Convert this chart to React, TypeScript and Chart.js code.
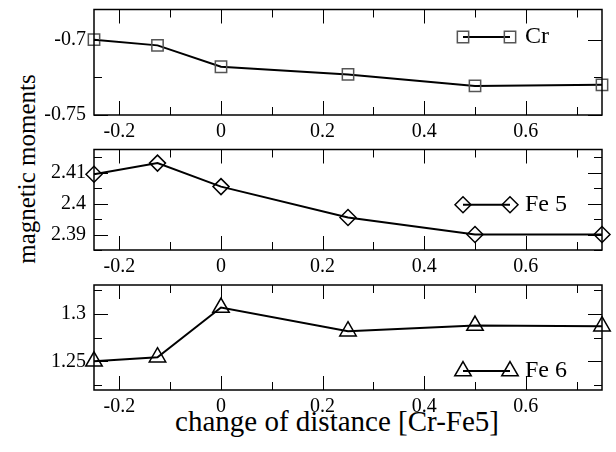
import React, { useEffect, useRef } from 'react';
import { Chart, registerables } from 'chart.js';
import { drawPoint } from 'chart.js/helpers';

Chart.register(...registerables);

// ---------- data ----------
const xValues = [-0.25, -0.125, 0, 0.25, 0.5, 0.75];
const crValues = [-0.7, -0.7038, -0.718, -0.7231, -0.7307, -0.73];
const fe5Values = [2.4095, 2.4131, 2.4055, 2.3955, 2.39, 2.39];
const fe6Values = [1.2501, 1.2544, 1.3064, 1.2816, 1.2875, 1.2868];

const xRange = [-0.25, 0.75];
const xMajorTicks = [-0.2, 0, 0.2, 0.4, 0.6];
const xTickLabels = ['-0.2', '0', '0.2', '0.4', '0.6'];
const xMinorTicks = [-0.1, 0.1, 0.3, 0.5, 0.7];

const crRange = [-0.75, -0.68];
const crMajorTicks = [-0.75, -0.7];
const crTickLabels = ['-0.75', '-0.7'];
const crMinorTicks = [-0.725];

const fe5Range = [2.385, 2.4175];
const fe5MajorTicks = [2.39, 2.4, 2.41];
const fe5TickLabels = ['2.39', '2.4', '2.41'];
const fe5MinorTicks = [2.385, 2.395, 2.405, 2.415];

const fe6Range = [1.22, 1.33];
const fe6MajorTicks = [1.25, 1.3];
const fe6TickLabels = ['1.25', '1.3'];
const fe6MinorTicks = [1.225, 1.275, 1.325];

const seriesNames = ['Cr', 'Fe 5', 'Fe 6'];
const yTitle = 'magnetic moments';
const xTitle = 'change of distance [Cr-Fe5]';

// ---------- layout / style ----------
const W = 616;
const H = 452;
const PLOT_LEFT = 94;
const PLOT_RIGHT = 602;
const Y_AXIS_W = 60;
const PAD_TOP = 4;
const X_AXIS_H = 26;
const FONT = '"Liberation Serif", "Times New Roman", serif';
const TICK_FONT = 20;
const Y_TITLE_FONT = 25;
const X_TITLE_FONT = 29;
const LEGEND_FONT = 24;
const MAJOR_LEN = 14;
const MINOR_LEN = 8;

Chart.defaults.font.family = FONT;
Chart.defaults.color = '#000';

type PanelProps = {
  values: number[];
  range: number[];
  majors: number[];
  labels: string[];
  minors: number[];
  name: string;
  pointStyle: string;
  markerColor: string;
  radius: number;
  plotTop: number;
  plotBottom: number;
  legendDy: number;
  last?: boolean;
};

function Panel(p: PanelProps) {
  const ref = useRef<HTMLCanvasElement>(null);
  const canvasTop = p.plotTop - PAD_TOP;
  const xAxisH = p.last ? H - p.plotBottom : X_AXIS_H;
  const h = p.plotBottom - p.plotTop + PAD_TOP + xAxisH;

  useEffect(() => {
    const canvas = ref.current!;
    const decor = {
      id: 'decor',
      afterDatasetsDraw(chart: any) {
        const { ctx, chartArea: a, scales } = chart;
        const xs = scales.x;
        const ys = scales.y;
        ctx.save();
        ctx.strokeStyle = '#000';
        ctx.lineWidth = 1;
        ctx.beginPath();
        const xt = (v: number, len: number) => {
          const px = Math.round(xs.getPixelForValue(v)) + 0.5;
          ctx.moveTo(px, a.bottom);
          ctx.lineTo(px, a.bottom - len);
          ctx.moveTo(px, a.top);
          ctx.lineTo(px, a.top + len);
        };
        const yt = (v: number, len: number) => {
          const py = Math.round(ys.getPixelForValue(v)) + 0.5;
          ctx.moveTo(a.left, py);
          ctx.lineTo(a.left + len, py);
          ctx.moveTo(a.right, py);
          ctx.lineTo(a.right - len, py);
        };
        xMajorTicks.forEach((v) => xt(v, MAJOR_LEN));
        xMinorTicks.forEach((v) => xt(v, MINOR_LEN));
        p.majors.forEach((v) => yt(v, MAJOR_LEN));
        p.minors.forEach((v) => yt(v, MINOR_LEN));
        ctx.stroke();
        ctx.lineWidth = 1.5;
        ctx.strokeRect(a.left, a.top, a.right - a.left, a.bottom - a.top);

        // legend
        const ly = a.top + p.legendDy;
        const x1 = 463;
        const x2 = 510;
        ctx.lineWidth = 2;
        ctx.beginPath();
        ctx.moveTo(x1, ly);
        ctx.lineTo(x2, ly);
        ctx.stroke();
        ctx.strokeStyle = p.markerColor;
        ctx.fillStyle = 'rgba(0,0,0,0)';
        ctx.lineWidth = 1.5;
        const po = { pointStyle: p.pointStyle, radius: p.radius, borderWidth: 1.5, rotation: 0 };
        drawPoint(ctx, po as any, x1, ly);
        drawPoint(ctx, po as any, x2, ly);
        ctx.fillStyle = '#000';
        ctx.font = `${LEGEND_FONT}px ${FONT}`;
        ctx.textBaseline = 'middle';
        ctx.textAlign = 'left';
        ctx.fillText(p.name, x2 + 15, ly);
        ctx.restore();
      },
    };

    const chart = new Chart(canvas, {
      type: 'line',
      data: {
        datasets: [
          {
            label: p.name,
            data: xValues.map((x, i) => ({ x, y: p.values[i] })),
            borderColor: '#000',
            borderWidth: 2,
            pointStyle: p.pointStyle as any,
            pointRadius: p.radius,
            pointBorderColor: p.markerColor,
            pointBackgroundColor: 'rgba(0,0,0,0)',
            pointBorderWidth: 1.5,
            tension: 0,
            clip: false as any,
          },
        ],
      },
      options: {
        animation: false,
        responsive: false,
        maintainAspectRatio: false,
        layout: {
          padding: { left: PLOT_LEFT - Y_AXIS_W, right: W - PLOT_RIGHT, top: PAD_TOP, bottom: 0 },
        },
        plugins: {
          legend: { display: false },
          tooltip: { enabled: false },
        },
        scales: {
          x: {
            type: 'linear',
            min: xRange[0],
            max: xRange[1],
            grid: { display: false, drawTicks: false },
            border: { display: false },
            afterBuildTicks: (s: any) => {
              s.ticks = xMajorTicks.map((v) => ({ value: v }));
            },
            afterFit: (s: any) => {
              s.height = xAxisH;
              s.paddingLeft = 0;
              s.paddingRight = 0;
            },
            ticks: {
              autoSkip: false,
              maxRotation: 0,
              padding: 5,
              color: '#000',
              font: { size: TICK_FONT, family: FONT },
              callback: (_v: any, i: number) => xTickLabels[i],
            },
          },
          y: {
            type: 'linear',
            min: p.range[0],
            max: p.range[1],
            grid: { display: false, drawTicks: false },
            border: { display: false },
            afterBuildTicks: (s: any) => {
              s.ticks = p.majors.map((v) => ({ value: v }));
            },
            afterFit: (s: any) => {
              s.width = Y_AXIS_W;
              s.paddingTop = 0;
              s.paddingBottom = 0;
            },
            ticks: {
              autoSkip: false,
              padding: 8,
              color: '#000',
              font: { size: TICK_FONT, family: FONT },
              callback: (_v: any, i: number) => p.labels[i],
            },
          },
        },
      },
      plugins: [decor],
    });
    return () => chart.destroy();
  }, []);

  return (
    <canvas
      ref={ref}
      width={W}
      height={h}
      style={{ position: 'absolute', left: 0, top: canvasTop, width: W, height: h, display: 'block' }}
    />
  );
}

export default function App() {
  return (
    <div
      style={{
        position: 'absolute',
        left: 0,
        top: 0,
        width: W,
        height: H,
        background: '#fff',
        overflow: 'hidden',
      }}
    >
      <div
        style={{
          position: 'absolute',
          left: 26,
          top: 169,
          transform: 'translate(-50%, -50%) rotate(-90deg)',
          whiteSpace: 'nowrap',
          fontFamily: FONT,
          fontSize: Y_TITLE_FONT,
          lineHeight: 1,
          color: '#000',
        }}
      >
        {yTitle}
      </div>
      <div
        style={{
          position: 'absolute',
          left: 337,
          top: 407,
          transform: 'translate(-50%, 0)',
          whiteSpace: 'nowrap',
          fontFamily: FONT,
          fontSize: X_TITLE_FONT,
          lineHeight: 1,
          color: '#000',
        }}
      >
        {xTitle}
      </div>
      <Panel
        values={crValues}
        range={crRange}
        majors={crMajorTicks}
        labels={crTickLabels}
        minors={crMinorTicks}
        name={seriesNames[0]}
        pointStyle="rect"
        markerColor="#555"
        radius={8}
        plotTop={4}
        plotBottom={115}
        legendDy={27.5}
      />
      <Panel
        values={fe5Values}
        range={fe5Range}
        majors={fe5MajorTicks}
        labels={fe5TickLabels}
        minors={fe5MinorTicks}
        name={seriesNames[1]}
        pointStyle="rectRot"
        markerColor="#000"
        radius={8}
        plotTop={144}
        plotBottom={250}
        legendDy={55.3}
      />
      <Panel
        values={fe6Values}
        range={fe6Range}
        majors={fe6MajorTicks}
        labels={fe6TickLabels}
        minors={fe6MinorTicks}
        name={seriesNames[2]}
        pointStyle="triangle"
        markerColor="#000"
        radius={9.5}
        plotTop={278}
        plotBottom={390}
        legendDy={86}
        last
      />
    </div>
  );
}
